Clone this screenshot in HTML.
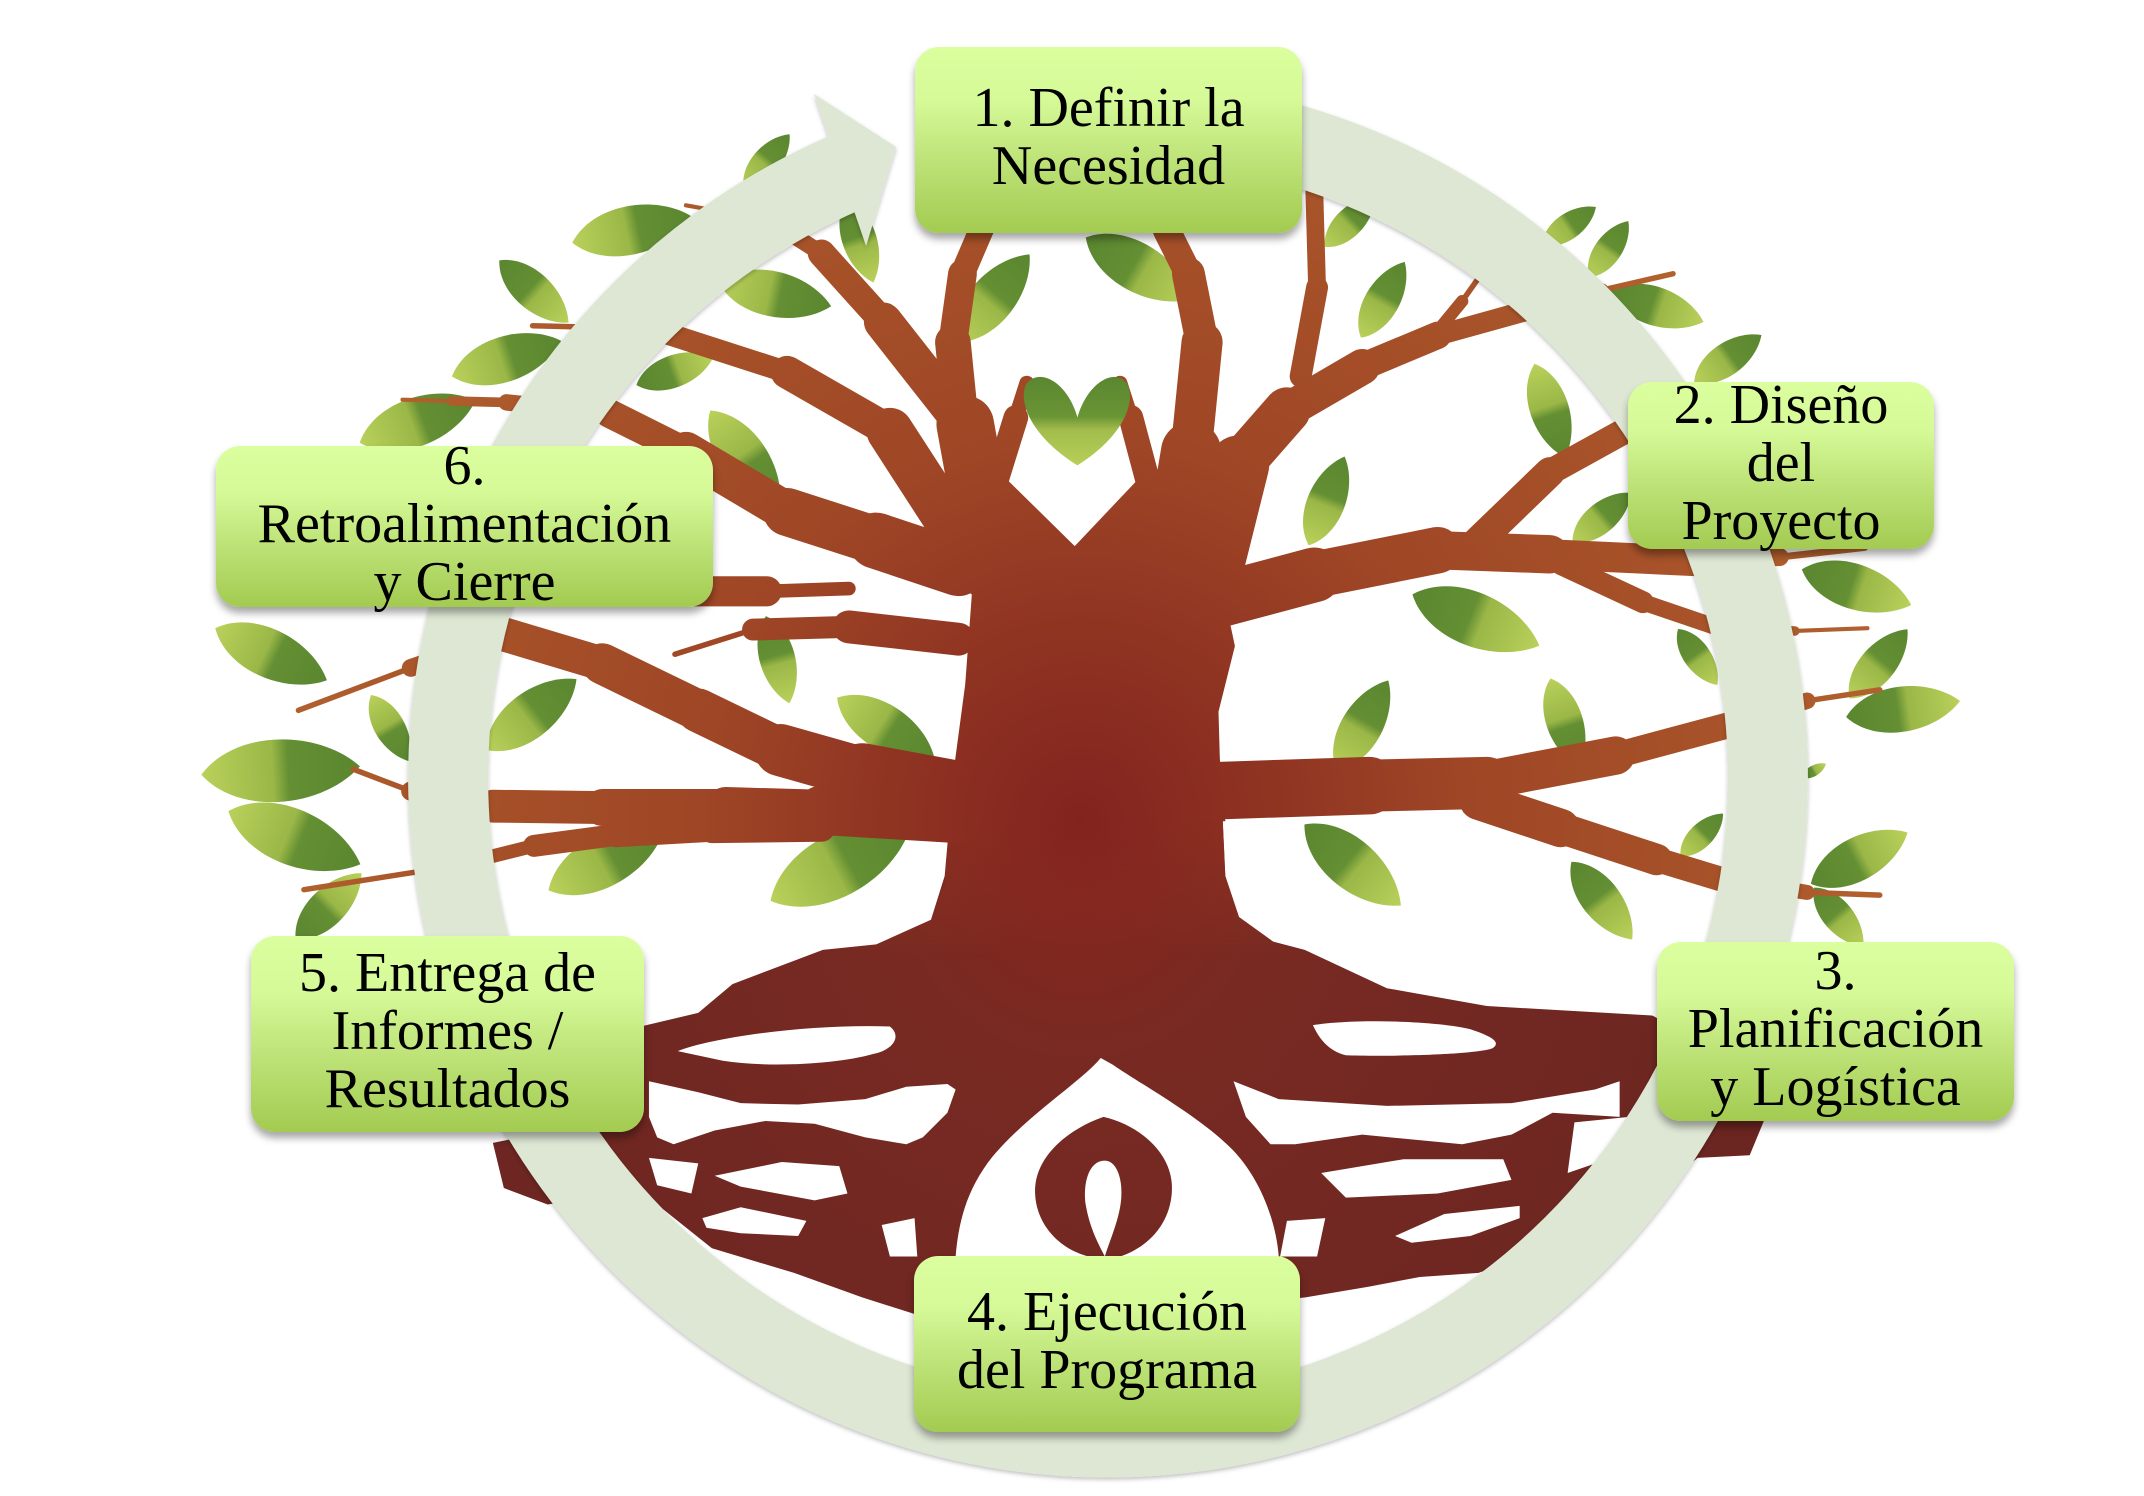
<!DOCTYPE html>
<html><head><meta charset="utf-8">
<style>
html,body{margin:0;padding:0;background:#fff;}
body{width:2144px;height:1496px;position:relative;overflow:hidden;}
svg{position:absolute;left:0;top:0;}
.box{position:absolute;box-sizing:border-box;border-radius:24px;
background:linear-gradient(to bottom,#dbfe9e 0%,#d6fa98 28%,#bde277 62%,#a3cb51 100%);
box-shadow:0 6px 8px rgba(0,0,0,0.35);
display:flex;align-items:center;justify-content:center;text-align:center;
font-family:"Liberation Serif",serif;font-size:56px;line-height:58px;color:#000;padding-bottom:6px;white-space:nowrap;}
</style></head><body>
<svg width="2144" height="1496" viewBox="0 0 1566 1093" preserveAspectRatio="none">
<defs>
<radialGradient id="bg" gradientUnits="userSpaceOnUse" cx="790" cy="600" r="620">
<stop offset="0" stop-color="#83231f"/><stop offset="0.22" stop-color="#8f3322"/>
<stop offset="0.45" stop-color="#9f4626"/><stop offset="0.75" stop-color="#a75229"/>
<stop offset="1" stop-color="#b4652f"/></radialGradient>
<radialGradient id="rg" gradientUnits="userSpaceOnUse" cx="790" cy="640" r="560">
<stop offset="0" stop-color="#84261f"/><stop offset="0.25" stop-color="#782a22"/>
<stop offset="1" stop-color="#6a2521"/></radialGradient>
<linearGradient id="fade" gradientUnits="userSpaceOnUse" x1="0" y1="600" x2="0" y2="700">
<stop offset="0" stop-color="#fff"/><stop offset="1" stop-color="#000"/></linearGradient>
<mask id="tm" maskUnits="userSpaceOnUse" x="0" y="0" width="1566" height="1093">
<rect x="0" y="0" width="1566" height="1093" fill="url(#fade)"/></mask>
<linearGradient id="g1" x1="0" y1="0" x2="1" y2="0">
<stop offset="0" stop-color="#bad15b"/><stop offset="0.45" stop-color="#9ab747"/>
<stop offset="0.55" stop-color="#648f33"/><stop offset="1" stop-color="#5a8630"/></linearGradient>
<linearGradient id="g2" x1="0" y1="0" x2="1" y2="0">
<stop offset="0" stop-color="#5a8630"/><stop offset="0.45" stop-color="#648f33"/>
<stop offset="0.55" stop-color="#9ab747"/><stop offset="1" stop-color="#bad15b"/></linearGradient>
<linearGradient id="gv" x1="0" y1="0" x2="0" y2="1">
<stop offset="0" stop-color="#5a8630"/><stop offset="0.45" stop-color="#6a9535"/>
<stop offset="0.6" stop-color="#a2bd4c"/><stop offset="1" stop-color="#b8cf58"/></linearGradient>
<path id="lf" d="M-1,0 C-0.55,-0.55 0.5,-0.5 1,0 C0.5,0.5 -0.55,0.55 -1,0Z"/>
<filter id="sh" x="-10%" y="-10%" width="120%" height="120%"><feDropShadow dx="0" dy="1.5" stdDeviation="1.5" flood-color="#000" flood-opacity="0.25"/></filter>
</defs>

<g>
<use href="#lf" fill="url(#g1)" transform="translate(560 118) rotate(-50) scale(26)"/>
<use href="#lf" fill="url(#g1)" transform="translate(462 168) rotate(-12) scale(45)"/>
<use href="#lf" fill="url(#g2)" transform="translate(390 213) rotate(42) scale(34)"/>
<use href="#lf" fill="url(#g1)" transform="translate(370 262) rotate(-18) scale(42)"/>
<use href="#lf" fill="url(#g2)" transform="translate(493 271) rotate(-20) scale(30)"/>
<use href="#lf" fill="url(#g1)" transform="translate(566 215) rotate(12) scale(42)"/>
<use href="#lf" fill="url(#g2)" transform="translate(628 176) rotate(72) scale(32)"/>
<use href="#lf" fill="url(#g1)" transform="translate(544 336) rotate(55) scale(44)"/>
<use href="#lf" fill="url(#g1)" transform="translate(305 308) rotate(-20) scale(45)"/>
<use href="#lf" fill="url(#g1)" transform="translate(198 478) rotate(25) scale(45)"/>
<use href="#lf" fill="url(#g1)" transform="translate(205 563) rotate(-3) scale(58)"/>
<use href="#lf" fill="url(#g1)" transform="translate(215 612) rotate(22) scale(52)"/>
<use href="#lf" fill="url(#g2)" transform="translate(240 662) rotate(-45) scale(34)"/>
<use href="#lf" fill="url(#g1)" transform="translate(285 532) rotate(60) scale(28)"/>
<use href="#lf" fill="url(#g1)" transform="translate(388 522) rotate(-38) scale(42)"/>
<use href="#lf" fill="url(#g1)" transform="translate(443 628) rotate(-28) scale(48)"/>
<use href="#lf" fill="url(#g2)" transform="translate(568 482) rotate(75) scale(33)"/>
<use href="#lf" fill="url(#g1)" transform="translate(647 532) rotate(32) scale(42)"/>
<use href="#lf" fill="url(#g1)" transform="translate(614 631) rotate(-28) scale(58)"/>
<use href="#lf" fill="url(#g1)" transform="translate(725 218) rotate(-50) scale(42)"/>
<use href="#lf" fill="url(#g2)" transform="translate(832 196) rotate(30) scale(45)"/>
<use href="#lf" fill="url(#g1)" transform="translate(986 162) rotate(-45) scale(26)"/>
<use href="#lf" fill="url(#g1)" transform="translate(1010 219) rotate(-60) scale(32)"/>
<use href="#lf" fill="url(#g1)" transform="translate(1146 165) rotate(-35) scale(24)"/>
<use href="#lf" fill="url(#g1)" transform="translate(1175 182) rotate(-55) scale(25)"/>
<use href="#lf" fill="url(#g2)" transform="translate(1210 224) rotate(18) scale(36)"/>
<use href="#lf" fill="url(#g1)" transform="translate(1132 300) rotate(72) scale(36)"/>
<use href="#lf" fill="url(#g1)" transform="translate(969 366) rotate(-68) scale(35)"/>
<use href="#lf" fill="url(#g2)" transform="translate(1078 453) rotate(22) scale(50)"/>
<use href="#lf" fill="url(#g1)" transform="translate(995 530) rotate(-60) scale(38)"/>
<use href="#lf" fill="url(#g1)" transform="translate(1143 528) rotate(72) scale(34)"/>
<use href="#lf" fill="url(#g2)" transform="translate(988 632) rotate(40) scale(46)"/>
<use href="#lf" fill="url(#g2)" transform="translate(1170 658) rotate(52) scale(36)"/>
<use href="#lf" fill="url(#g2)" transform="translate(1240 480) rotate(55) scale(25)"/>
<use href="#lf" fill="url(#g1)" transform="translate(1372 485) rotate(-50) scale(33)"/>
<use href="#lf" fill="url(#g2)" transform="translate(1390 518) rotate(-8) scale(42)"/>
<use href="#lf" fill="url(#g2)" transform="translate(1358 627) rotate(-28) scale(40)"/>
<use href="#lf" fill="url(#g2)" transform="translate(1343 670) rotate(50) scale(28)"/>
<use href="#lf" fill="url(#g1)" transform="translate(1243 610) rotate(-45) scale(22)"/>
<use href="#lf" fill="url(#g2)" transform="translate(1325 563) rotate(-30) scale(10)"/>
<use href="#lf" fill="url(#g2)" transform="translate(1356 429) rotate(18) scale(42)"/>
<use href="#lf" fill="url(#g1)" transform="translate(1170 378) rotate(-40) scale(28)"/>
<use href="#lf" fill="url(#g1)" transform="translate(1262 262) rotate(-35) scale(30)"/>
</g>

<path fill="url(#rg)" d="M697,560 L690,640 L680,672 L640,690 L601,694 L535,719 L510,740 L468,750 L440,752 L430,800 L432,830 L395,828 L360,835 L368,868 L400,880 L450,872 L480,880 L520,912 L580,930 L630,948 L668,960 L700,955 L930,950 L953,948 L1000,940 L1037,933 L1080,930 L1150,905 L1200,878 L1240,846 L1278,844 L1290,815 L1270,790 L1240,760 L1207,742 L1086,735 L1013,722 L953,694 L930,688 L905,670 L895,640 L891,555 Z"/>

<path fill="url(#bg)" d="M712,405 L705,500 L697,560 L692,600 L895,600 L891,555 L890,520 L902,472 L893,430 L889,392 L884,366 L870,345 L838,343 L785,399 L725,340 L715,380 Z"/>
<path fill="url(#bg)" mask="url(#tm)" d="M697,560 L690,645 L680,672 L640,690 L601,700 L953,700 L930,688 L905,670 L895,640 L891,555 Z"/>

<g fill="none" stroke="url(#bg)" stroke-linecap="round" stroke-linejoin="round">
<path d="M725,420 L705,310" stroke-width="42"/>
<path d="M700,305 L645,235" stroke-width="28"/>
<path d="M645,235 L600,185" stroke-width="20"/>
<path d="M600,185 L565,163" stroke-width="12"/>
<path d="M565,163 L540,157" stroke-width="6"/>
<path d="M540,157 L501,150" stroke-width="3"/>
<path d="M702,310 L696,250" stroke-width="26"/>
<path d="M696,250 L703,200" stroke-width="21"/>
<path d="M703,200 L718,165" stroke-width="18"/>
<path d="M728,350 L742,305" stroke-width="18"/>
<path d="M742,305 L750,280" stroke-width="11"/>
<path d="M838,350 L826,305" stroke-width="18"/>
<path d="M826,305 L818,280" stroke-width="11"/>
<path d="M855,420 L870,330" stroke-width="44"/>
<path d="M870,330 L878,250" stroke-width="30"/>
<path d="M878,250 L868,200" stroke-width="24"/>
<path d="M868,200 L852,168" stroke-width="20"/>
<path d="M885,420 L905,340" stroke-width="44"/>
<path d="M905,340 L940,300" stroke-width="34"/>
<path d="M940,300 L995,268" stroke-width="26"/>
<path d="M995,268 L1050,245" stroke-width="20"/>
<path d="M1050,245 L1115,227" stroke-width="15"/>
<path d="M1115,227 L1170,212" stroke-width="10"/>
<path d="M1170,212 L1222,200" stroke-width="4"/>
<path d="M1045,248 L1068,220" stroke-width="9"/>
<path d="M1068,220 L1085,196" stroke-width="4"/>
<path d="M950,275 L962,210" stroke-width="16"/>
<path d="M962,210 L960,140" stroke-width="13"/>
<path d="M885,440 L960,420" stroke-width="40"/>
<path d="M960,420 L1050,402" stroke-width="34"/>
<path d="M1050,402 L1132,405" stroke-width="28"/>
<path d="M1132,405 L1240,410" stroke-width="22"/>
<path d="M1240,410 L1300,407" stroke-width="13"/>
<path d="M1300,407 L1362,400" stroke-width="5"/>
<path d="M1075,400 L1132,345" stroke-width="22"/>
<path d="M1132,345 L1190,313" stroke-width="19"/>
<path d="M1190,313 L1240,300" stroke-width="17"/>
<path d="M1140,412 L1200,440" stroke-width="16"/>
<path d="M1200,440 L1253,458" stroke-width="12"/>
<path d="M1253,458 L1311,461" stroke-width="7"/>
<path d="M1311,461 L1364,459" stroke-width="3"/>
<path d="M880,578 L1000,574" stroke-width="42"/>
<path d="M1000,574 L1086,572" stroke-width="38"/>
<path d="M1086,570 L1180,552" stroke-width="28"/>
<path d="M1180,552 L1262,530" stroke-width="19"/>
<path d="M1262,530 L1320,512" stroke-width="12"/>
<path d="M1320,512 L1373,504" stroke-width="4"/>
<path d="M1080,585 L1140,605" stroke-width="28"/>
<path d="M1140,605 L1210,628" stroke-width="23"/>
<path d="M1210,628 L1256,642" stroke-width="18"/>
<path d="M1256,642 L1320,652" stroke-width="11"/>
<path d="M1320,652 L1373,654" stroke-width="4"/>
<path d="M700,415 L640,395" stroke-width="41"/>
<path d="M640,395 L575,374" stroke-width="35"/>
<path d="M575,374 L501,330" stroke-width="29"/>
<path d="M501,330 L445,302" stroke-width="21"/>
<path d="M445,302 L370,294" stroke-width="12"/>
<path d="M370,294 L330,293" stroke-width="7"/>
<path d="M330,293 L294,292" stroke-width="3"/>
<path d="M705,400 L650,315" stroke-width="34"/>
<path d="M650,315 L575,272" stroke-width="24"/>
<path d="M575,272 L485,243" stroke-width="16"/>
<path d="M485,243 L430,239" stroke-width="9"/>
<path d="M430,239 L389,238" stroke-width="4"/>
<path d="M505,432 L560,432" stroke-width="22"/>
<path d="M560,432 L620,430" stroke-width="10"/>
<path d="M700,467 L620,458" stroke-width="24"/>
<path d="M620,458 L550,460" stroke-width="16"/>
<path d="M550,460 L493,478" stroke-width="4"/>
<path d="M700,578 L630,565" stroke-width="44"/>
<path d="M630,565 L570,548" stroke-width="38"/>
<path d="M570,548 L510,519" stroke-width="32"/>
<path d="M510,519 L440,485" stroke-width="30"/>
<path d="M440,485 L370,464" stroke-width="25"/>
<path d="M370,464 L300,488" stroke-width="13"/>
<path d="M300,488 L218,519" stroke-width="4"/>
<path d="M700,598 L600,592" stroke-width="36"/>
<path d="M600,592 L530,590" stroke-width="30"/>
<path d="M530,590 L440,590" stroke-width="27"/>
<path d="M440,590 L360,589" stroke-width="24"/>
<path d="M360,589 L300,578" stroke-width="14"/>
<path d="M300,578 L258,562" stroke-width="4"/>
<path d="M600,605 L520,606" stroke-width="20"/>
<path d="M520,606 L450,610" stroke-width="18"/>
<path d="M450,610 L390,618" stroke-width="16"/>
<path d="M390,618 L330,633" stroke-width="10"/>
<path d="M330,633 L222,650" stroke-width="4"/>
</g>

<path fill="url(#gv)" d="M787,305 C780,280 760,268 750,280 C743,292 752,318 787,340 C822,318 830,292 823,280 C814,268 794,280 787,305 Z"/>

<g fill="#fff">
<path d="M495,768 C520,758 590,748 650,750 C660,758 650,768 638,770 C610,778 560,780 528,775 Z"/>
<path d="M959,749 C990,744 1050,746 1074,752 C1092,758 1096,762 1090,766 C1075,771 1010,772 983,771 C970,768 963,758 959,749 Z"/>
<polygon points="474,790 510,798 541,806 583,807 632,803 662,794 692,792 698,796 692,813 674,831 662,836 632,831 595,821 559,819 522,826 492,836 480,831 474,816"/>
<polygon points="901,790 934,803 1013,808 1104,806 1165,796 1183,790 1183,816 1134,813 1104,829 1068,836 995,829 946,836 928,836 910,816"/>
<polygon points="522,859 571,849 613,852 619,872 595,877 541,867"/>
<polygon points="513,890 541,882 589,892 583,903 541,901 516,897"/>
<polygon points="965,857 1025,847 1098,847 1104,862 1050,872 983,875"/>
<polygon points="1019,903 1055,887 1110,881 1110,890 1074,903 1031,908"/>
<polygon points="474,846 510,850 505,872 480,866"/>
<polygon points="644,895 668,890 670,918 650,918"/>
<polygon points="940,892 968,890 962,918 935,918"/>
<polygon points="1150,820 1190,816 1180,845 1145,857"/>
<path d="M804,773 C790,790 750,815 725,845 C705,870 700,895 698,918 L934,918 C932,890 918,855 895,835 C870,812 830,790 813,778 Z"/>
</g>
<path fill="url(#rg)" d="M806,816 C780,825 756,845 756,870 C756,895 775,915 800,919 L815,919 C840,912 856,892 856,868 C856,842 832,822 806,816Z"/>
<path fill="#fff" d="M807,848 C795,848 791,865 793,880 C796,898 803,910 807,918 C811,905 818,890 819,875 C820,860 815,848 807,848Z"/>

<g filter="url(#sh)">
<path d="M628.7,121.4 A482,482 0 1 0 893,93.6" fill="none" stroke="#dee7d4" stroke-width="58.4"/>
<polygon points="594.6,68.7 654.5,107.4 632.6,179.7" fill="#dee7d4"/>
</g>
</svg>

<div class="box" style="left:915px;top:47px;width:387px;height:186px;">1. Definir la<br>Necesidad</div>
<div class="box" style="left:1628px;top:382px;width:306px;height:167px;">2. Diseño<br>del<br>Proyecto</div>
<div class="box" style="left:1657px;top:942px;width:357px;height:179px;">3.<br>Planificación<br>y Logística</div>
<div class="box" style="left:914px;top:1256px;width:386px;height:176px;">4. Ejecución<br>del Programa</div>
<div class="box" style="left:251px;top:936px;width:393px;height:196px;">5. Entrega de<br>Informes /<br>Resultados</div>
<div class="box" style="left:216px;top:446px;width:497px;height:161px;">6.<br>Retroalimentación<br>y Cierre</div>
</body></html>
